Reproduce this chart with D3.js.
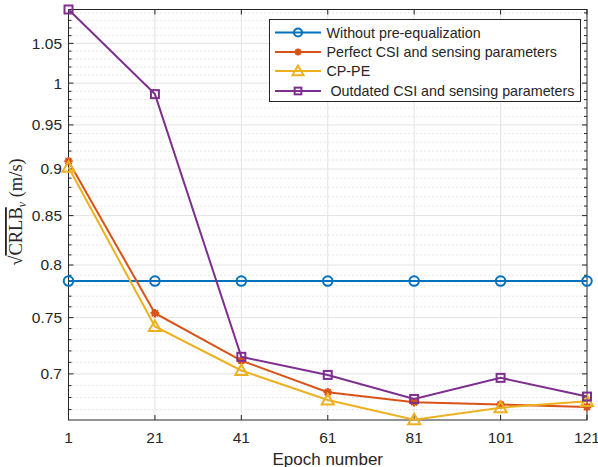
<!DOCTYPE html>
<html>
<head>
<meta charset="utf-8">
<script src="https://cdn.jsdelivr.net/npm/d3@7"></script>
<style>
  body { margin: 0; background: #fff; }
  svg { display: block; }
  text { font-family: "Liberation Sans", Arial, sans-serif; fill: #262626; }
</style>
</head>
<body>
<div id="plot"></div>
<script>
// Data
const epochs = [1, 21, 41, 61, 81, 101, 121];
const withoutPreEq = [0.7844, 0.7844, 0.7844, 0.7844, 0.7844, 0.7844, 0.7844];
const perfectCSI = [0.9086, 0.7541, 0.7115, 0.6844, 0.6760, 0.6741, 0.6722];
const cpPE = [0.902, 0.7419, 0.7029, 0.6780, 0.6617, 0.6716, 0.6768];
const outdatedCSI = [1.0945, 0.9866, 0.7148, 0.6991, 0.6788, 0.6966, 0.6808];

const seriesNames = [
  "Without pre-equalization",
  "Perfect CSI and sensing parameters",
  "CP-PE",
  " Outdated CSI and sensing parameters"
];
const seriesColors = ["#0072BD", "#D95319", "#EDB120", "#7E2F8E"];
const seriesMarkers = ["circle", "asterisk", "triangle", "square"];
const seriesValues = [withoutPreEq, perfectCSI, cpPE, outdatedCSI];

const xTicks = [1, 21, 41, 61, 81, 101, 121];
const yTicks = [0.7, 0.75, 0.8, 0.85, 0.9, 0.95, 1, 1.05];
const yTickLabels = ["0.7", "0.75", "0.8", "0.85", "0.9", "0.95", "1", "1.05"];
const yMinor = d3.range(67, 110).map(d => d / 100).filter(d => Math.round(d * 100) % 5 !== 0);

const width = 598, height = 467;
const plotL = 68.5, plotR = 587, plotT = 9.5, plotB = 420;

const svg = d3.select("#plot").append("svg")
  .attr("width", width)
  .attr("height", height);

const x = d3.scaleLinear().domain([1, 121]).range([plotL, plotR]);
const y = d3.scaleLog().domain([0.6615, 1.0945]).range([plotB, plotT]);

// Grid
const grid = svg.append("g");
grid.selectAll(".minor")
  .data(yMinor)
  .enter().append("line")
  .attr("x1", plotL).attr("x2", plotR)
  .attr("y1", d => y(d)).attr("y2", d => y(d))
  .style("stroke", "#cfcfcf")
  .style("stroke-width", 1)
  .style("stroke-dasharray", "1,3");

grid.selectAll(".ymajor")
  .data(yTicks)
  .enter().append("line")
  .attr("x1", plotL).attr("x2", plotR)
  .attr("y1", d => y(d)).attr("y2", d => y(d))
  .style("stroke", "#e3e3e3")
  .style("stroke-width", 1);

grid.selectAll(".xmajor")
  .data(xTicks.slice(1, -1))
  .enter().append("line")
  .attr("y1", plotT).attr("y2", plotB)
  .attr("x1", d => x(d)).attr("x2", d => x(d))
  .style("stroke", "#e3e3e3")
  .style("stroke-width", 1);

// Axes box and ticks
const axisG = svg.append("g").style("stroke", "#262626").style("stroke-width", 1);
axisG.append("rect")
  .attr("x", plotL).attr("y", plotT)
  .attr("width", plotR - plotL).attr("height", plotB - plotT)
  .style("fill", "none");

xTicks.forEach(t => {
  axisG.append("line").attr("x1", x(t)).attr("x2", x(t)).attr("y1", plotB).attr("y2", plotB - 5);
  axisG.append("line").attr("x1", x(t)).attr("x2", x(t)).attr("y1", plotT).attr("y2", plotT + 5);
});
yTicks.forEach(t => {
  axisG.append("line").attr("x1", plotL).attr("x2", plotL + 5).attr("y1", y(t)).attr("y2", y(t));
  axisG.append("line").attr("x1", plotR).attr("x2", plotR - 5).attr("y1", y(t)).attr("y2", y(t));
});
yMinor.forEach(t => {
  axisG.append("line").attr("x1", plotL).attr("x2", plotL + 3).attr("y1", y(t)).attr("y2", y(t));
  axisG.append("line").attr("x1", plotR).attr("x2", plotR - 3).attr("y1", y(t)).attr("y2", y(t));
});

// Tick labels
svg.selectAll(".xlab")
  .data(xTicks)
  .enter().append("text")
  .attr("x", d => x(d))
  .attr("y", 443)
  .attr("text-anchor", "middle")
  .style("font-size", "15.5px")
  .text(d => d);

svg.selectAll(".ylab")
  .data(yTicks)
  .enter().append("text")
  .attr("x", 62)
  .attr("y", d => y(d))
  .attr("dy", "0.35em")
  .attr("text-anchor", "end")
  .style("font-size", "15.5px")
  .text((d, i) => yTickLabels[i]);

// Axis titles
svg.append("text")
  .attr("x", x(61))
  .attr("y", 465)
  .attr("text-anchor", "middle")
  .style("font-size", "17px")
  .text("Epoch number");

const yTitle = svg.append("g")
  .attr("transform", "translate(22,212) rotate(-90)");
const yt = yTitle.append("text")
  .attr("text-anchor", "middle")
  .style("font-family", "'Liberation Serif', 'DejaVu Serif', serif")
  .style("font-size", "18.5px");
yt.append("tspan").text("\u221A");
yt.append("tspan").style("text-decoration", "overline").text("CRLB");
yt.append("tspan").attr("dy", 4).style("font-size", "12px").style("font-style", "italic").text("v");
yt.append("tspan").attr("dy", -4).text(" (m/s)");

// Marker drawing
function drawMarker(g, type, color, cx, cy, s) {
  if (type === "circle") {
    g.append("circle").attr("cx", cx).attr("cy", cy).attr("r", s * 0.5)
      .style("fill", "none").style("stroke", color).style("stroke-width", 2);
  } else if (type === "square") {
    const h = s * 0.42;
    g.append("rect").attr("x", cx - h).attr("y", cy - h).attr("width", 2 * h).attr("height", 2 * h)
      .style("fill", "none").style("stroke", color).style("stroke-width", 2);
  } else if (type === "triangle") {
    const h = s * 0.55;
    g.append("path")
      .attr("d", `M${cx},${cy - h} L${cx + h},${cy + h * 0.75} L${cx - h},${cy + h * 0.75} Z`)
      .style("fill", "none").style("stroke", color).style("stroke-width", 2);
  } else if (type === "asterisk") {
    const h = s * 0.45;
    const d = h * 0.707;
    g.append("path")
      .attr("d", `M${cx - h},${cy} L${cx + h},${cy} M${cx},${cy - h} L${cx},${cy + h} M${cx - d},${cy - d} L${cx + d},${cy + d} M${cx - d},${cy + d} L${cx + d},${cy - d}`)
      .style("fill", "none").style("stroke", color).style("stroke-width", 2.2);
  }
}

// Series
const line = d3.line().x(d => x(d[0])).y(d => y(d[1]));
seriesValues.forEach((vals, i) => {
  const pts = epochs.map((e, j) => [e, vals[j]]);
  const g = svg.append("g");
  g.append("path")
    .datum(pts)
    .attr("d", line)
    .style("fill", "none")
    .style("stroke", seriesColors[i])
    .style("stroke-width", 2);
  pts.forEach(p => drawMarker(g, seriesMarkers[i], seriesColors[i], x(p[0]), y(p[1]), i === 2 ? 11 : 9.5));
});

// Legend
const lg = svg.append("g");
lg.append("rect")
  .attr("x", 269.5).attr("y", 19.5)
  .attr("width", 311).attr("height", 82)
  .style("fill", "#fff")
  .style("stroke", "#262626")
  .style("stroke-width", 1);
const legY = [32.5, 52, 71, 91];
seriesNames.forEach((name, i) => {
  lg.append("line")
    .attr("x1", 275).attr("x2", 321)
    .attr("y1", legY[i]).attr("y2", legY[i])
    .style("stroke", seriesColors[i])
    .style("stroke-width", 2);
  drawMarker(lg, seriesMarkers[i], seriesColors[i], 298, legY[i], i === 2 ? 10 : 8);
  lg.append("text")
    .attr("x", 326.5)
    .attr("y", legY[i])
    .attr("dy", "0.35em")
    .style("font-size", "14.3px")
    .attr("xml:space", "preserve")
    .text(name);
});
</script>
</body>
</html>
